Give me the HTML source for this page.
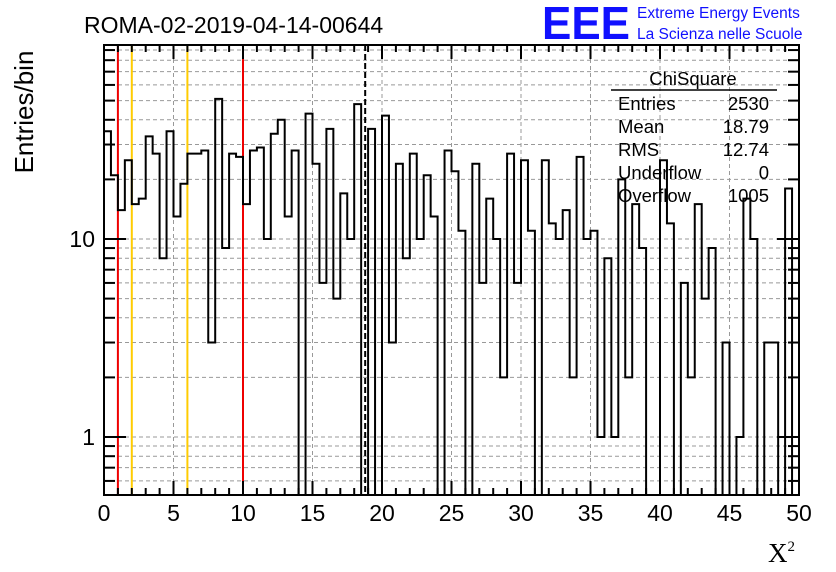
<!DOCTYPE html>
<html><head><meta charset="utf-8"><style>
body{margin:0;background:#fff;}
svg{display:block;font-family:"Liberation Sans",sans-serif;}
</style></head><body>
<svg id="c" width="836" height="572">
<text x="84" y="33" font-size="23">ROMA-02-2019-04-14-00644</text>
<text x="542" y="39" font-size="46" font-weight="bold" fill="#1010ff" textLength="88" lengthAdjust="spacingAndGlyphs">EEE</text>
<text x="637" y="18" font-size="15.5" fill="#1010ff">Extreme Energy Events</text>
<text x="637" y="39" font-size="15.5" fill="#1010ff">La Scienza nelle Scuole</text>
<text transform="translate(33,112) rotate(-90)" text-anchor="middle" font-size="26">Entries/bin</text>
<text x="768" y="562" font-size="27" font-family="Liberation Serif,serif">X<tspan font-size="15" dy="-11">2</tspan></text>
<g id="grid"></g><g id="marks"></g><g id="axes"></g>
<g font-size="18.5">
<text x="693" y="85" text-anchor="middle">ChiSquare</text>
<line x1="611" y1="90" x2="777" y2="90" stroke="#000" stroke-width="1.5"/>
<text x="618" y="110">Entries</text><text x="769" y="110" text-anchor="end">2530</text>
<text x="618" y="133">Mean</text><text x="769" y="133" text-anchor="end">18.79</text>
<text x="618" y="156">RMS</text><text x="769" y="156" text-anchor="end">12.74</text>
<text x="618" y="179">Underflow</text><text x="769" y="179" text-anchor="end">0</text>
<text x="618" y="202">Overflow</text><text x="769" y="202" text-anchor="end">1005</text>
</g>
</svg>
<script>
const counts=[35,21,14,25,15,16,33,27,8,35,13,19,27,27,28,3,51,9,27,26,15,28,29,10,34,40,13,28,0,43,24,6,36,5,17,10,48,0,36,0,42,3,24,8,27,10,21,13,0,28,22,11,0,24,6,16,10,2,27,6,25,11,0,25,12,10,14,2,26,10,11,1,8,1,20,2,15,9,0,0,25,12,0,6,2,15,5,9,0,3,0,1,16,10,0,3,3,0,18,0];
const xTicks=[0,5,10,15,20,25,30,35,40,45,50];
const yTickLabels=[1,10];
const redLines=[1,10];
const orangeLines=[2,6];
const meanValue=18.79;
const binLo=0, binHi=50;
const L=104,R=799,T=45,B=495;
const NS="http://www.w3.org/2000/svg";
function X(v){return L+(v-binLo)/(binHi-binLo)*(R-L);}
function Y(v){if(v<=0)return B;const y=239-198*Math.log10(v/10);return Math.max(T,Math.min(B,y));}
function mk(tag,attrs,parent){const e=document.createElementNS(NS,tag);for(const k in attrs)e.setAttribute(k,attrs[k]);parent.appendChild(e);return e;}
const grid=document.getElementById('grid'),marks=document.getElementById('marks'),axes=document.getElementById('axes');
xTicks.forEach(v=>{if(v>binLo&&v<binHi){const l=mk('line',{x1:X(v),x2:X(v),y1:T,y2:B,stroke:'#999','stroke-dasharray':'4,3','stroke-width':1},grid);

}});
const yMinor=[];
for(let d=0.1;d<=100;d*=10){for(let m=1;m<10;m++){const v=Math.round(m*d*1000)/1000;const y=Y(v);if(y>T&&y<B)yMinor.push(v);}}
yMinor.forEach(v=>{const l=mk('line',{x1:L,x2:R,y1:Y(v),y2:Y(v),stroke:'#999','stroke-dasharray':'4,3','stroke-width':1},grid);

});
redLines.forEach(v=>{const l=mk('line',{x1:X(v),x2:X(v),y1:T,y2:B,stroke:'#ee0000','stroke-width':2},marks);

});
orangeLines.forEach(v=>{const l=mk('line',{x1:X(v),x2:X(v),y1:T,y2:B,stroke:'#ffcc00','stroke-width':2},marks);

});
const ml=mk('line',{x1:X(meanValue),x2:X(meanValue),y1:T,y2:B,stroke:'#000','stroke-width':2,'stroke-dasharray':'6,3'},marks);


const bw=(binHi-binLo)/counts.length;
let d='M'+X(binLo)+','+B;
counts.forEach((c,i)=>{const y=Y(c);d+=' L'+X(binLo+i*bw)+','+y+' L'+X(binLo+(i+1)*bw)+','+y;});
d+=' L'+X(binHi)+','+B;
const h=mk('path',{d:d,fill:'none',stroke:'#000','stroke-width':2},marks);


const fr=mk('rect',{x:L,y:T,width:R-L,height:B-T,fill:'none',stroke:'#000','stroke-width':2},axes);


for(let v=binLo;v<=binHi;v+=1){const maj=v%5===0;const len=maj?14:7;
mk('line',{x1:X(v),x2:X(v),y1:B,y2:B-len,stroke:'#000','stroke-width':2},axes);
mk('line',{x1:X(v),x2:X(v),y1:T,y2:T+len,stroke:'#000','stroke-width':2},axes);}
xTicks.forEach(v=>{const t=mk('text',{x:X(v),y:521,'text-anchor':'middle','font-size':23},axes);t.textContent=v;

});
yMinor.forEach(v=>{const maj=yTickLabels.includes(v);const len=maj?22:11;
mk('line',{x1:L,x2:L+len,y1:Y(v),y2:Y(v),stroke:'#000','stroke-width':2},axes);
mk('line',{x1:R,x2:R-len,y1:Y(v),y2:Y(v),stroke:'#000','stroke-width':2},axes);});
yTickLabels.forEach(v=>{const t=mk('text',{x:95,y:Y(v)+8,'text-anchor':'end','font-size':23},axes);t.textContent=v;

});
</script>
</body></html>
